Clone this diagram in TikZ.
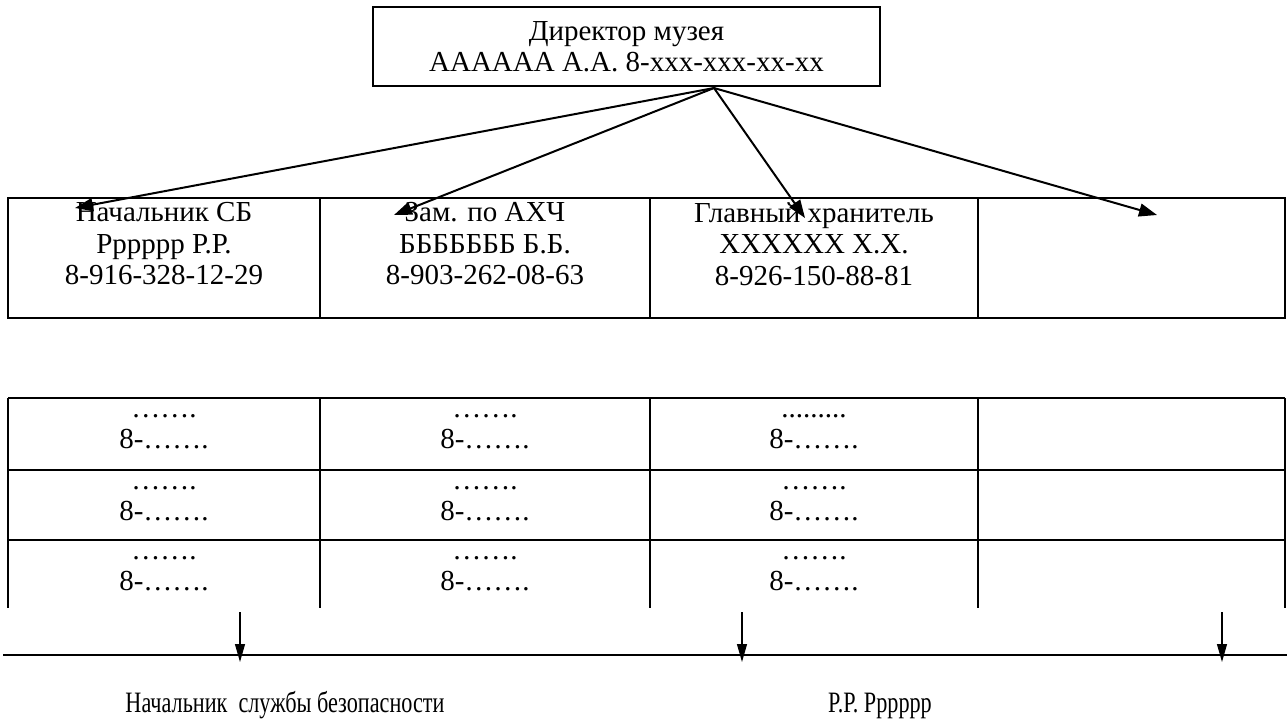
\documentclass[tikz,border=0pt]{standalone}
\usepackage{fontspec}
\setmainfont{Liberation Serif}
\newfontfamily\narrowserif[FakeStretch=0.75]{Liberation Serif}
\usetikzlibrary{arrows.meta}
\begin{document}
\begin{tikzpicture}[x=0.5pt,y=-0.5pt,
  txt/.style={font=\fontsize{14.5pt}{15.75pt}\selectfont, inner sep=0pt, align=center},
  sig/.style={font=\narrowserif\fontsize{14.8pt}{15.75pt}\selectfont, inner sep=0pt},
  frame/.style={line width=1.3pt},
  link/.style={line width=1pt, -{Triangle[length=9pt,width=6.5pt]}},
  down/.style={line width=0.6pt, -{Triangle[length=9pt,width=5pt]}},
]
\useasboundingbox (0,0) rectangle (1287,724);
% director
\node[txt, draw, frame, minimum width=253.5pt, minimum height=39.5pt] (dir) at (626.5,46.5)
  {Директор музея\\АААААА А.А. 8-xxx-xxx-xx-xx};
% first table
\draw[frame] (8,198) rectangle (1285,318);
\foreach \x in {320,650,978} \draw[frame] (\x,198) -- (\x,318);
\node[txt, anchor=north] (c1) at (164,202) {Начальник СБ\\Рррррр Р.Р.\\8-916-328-12-29};
\node[txt, anchor=north] (c2) at (485,202) {Зам. по АХЧ\\БББББББ Б.Б.\\8-903-262-08-63};
\node[txt, anchor=north] (c3) at (814,202) {Главный хранитель\\ХХХХХХ Х.Х.\\8-926-150-88-81};
% arrows from director
\coordinate (d0) at (714,88);
\coordinate (t1) at (75,208);
\coordinate (t2) at (394,215);
\coordinate (t3) at (805,218);
\coordinate (t4) at (1157,215);
\foreach \t in {t1,t2,t3,t4} \draw[link] (d0) -- (\t);
% second table
\foreach \y in {398,470,540} \draw[frame] (8,\y) -- (1285,\y);
\foreach \x in {8,320,650,978,1285} \draw[frame] (\x,398) -- (\x,608);
\foreach \r/\y in {1/398,2/470,3/540}{
  \node[txt, anchor=north] (r\r a) at (164,\y+16) {…….\\8-…….};
  \node[txt, anchor=north] (r\r b) at (485,\y+16) {…….\\8-…….};
}
\node[txt, anchor=north] (r1c) at (814,414) {.........\\8-…….};
\node[txt, anchor=north] (r2c) at (814,486) {…….\\8-…….};
\node[txt, anchor=north] (r3c) at (814,556) {…….\\8-…….};
% bottom line and arrows
\coordinate (l0) at (3,655);
\coordinate (l1) at (1287,655);
\draw[line width=1.3pt] (l0) -- (l1);
\foreach \i/\x in {1/240,2/742,3/1222}{
  \coordinate (s\i) at (\x,612);
  \coordinate (e\i) at (\x,662);
  \draw[down] (s\i) -- (e\i);
}
\node[sig, anchor=base] (sig1) at (285,712) {Начальник\ \ службы безопасности};
\node[sig, anchor=base] (sig2) at (880,712) {Р.Р. Рррррр};
\end{tikzpicture}
\end{document}
